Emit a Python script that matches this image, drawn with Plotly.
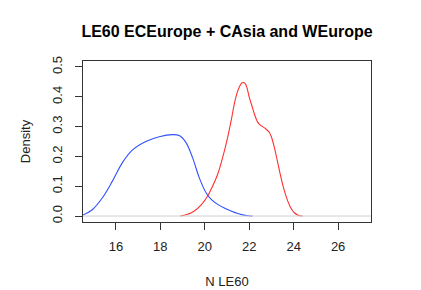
import plotly.graph_objects as go

# Data (density estimates)
blue_x = [14.2, 14.5, 14.95, 15.4, 15.85, 16.3, 16.75, 17.35, 17.95, 18.55, 18.85, 19.15,
          19.45, 19.75, 20.05, 20.3, 20.58, 20.9, 21.18, 21.45, 21.7, 21.95, 22.15]
blue_y = [0.0, 0.003, 0.022, 0.062, 0.118, 0.180, 0.222, 0.250, 0.266, 0.273, 0.270, 0.247,
          0.196, 0.129, 0.079, 0.055, 0.039, 0.026, 0.017, 0.009, 0.004, 0.001, 0.0]
red_x = [18.9, 19.2, 19.53, 19.85, 20.13, 20.35, 20.58, 20.8, 21.03, 21.2, 21.33, 21.45, 21.55,
         21.65, 21.73, 21.82, 21.9, 22.0, 22.12, 22.23, 22.38, 22.5, 22.6, 22.75, 22.9, 23.0,
         23.13, 23.28, 23.43, 23.58, 23.73, 23.88, 24.03, 24.2, 24.4]
red_y = [0.0, 0.005, 0.017, 0.038, 0.067, 0.100, 0.140, 0.195, 0.264, 0.325, 0.376, 0.412, 0.432,
         0.445, 0.448, 0.444, 0.430, 0.399, 0.370, 0.343, 0.315, 0.305, 0.300, 0.292, 0.281, 0.265,
         0.230, 0.180, 0.129, 0.085, 0.051, 0.026, 0.011, 0.003, 0.0]

x_ticks = [16, 18, 20, 22, 24, 26]
y_ticks = [0.0, 0.1, 0.2, 0.3, 0.4, 0.5]
y_tick_text = ["0.0", "0.1", "0.2", "0.3", "0.4", "0.5"]

title = "LE60 ECEurope + CAsia and WEurope"
x_label = "N LE60"
y_label = "Density"

fig = go.Figure()
fig.add_hline(y=0, line=dict(color="#d0d0d0", width=1))
fig.add_trace(go.Scatter(x=blue_x, y=blue_y, mode="lines", line=dict(color="#3050ff", width=1.1),
                         line_shape="spline", showlegend=False))
fig.add_trace(go.Scatter(x=red_x, y=red_y, mode="lines", line=dict(color="#ff3030", width=1.1),
                         line_shape="spline", showlegend=False))

# The page body has an 8px margin, so the figure is sized to fit the window.
W, H = 413, 282
font_family = "Liberation Sans, Arial, Helvetica, sans-serif"
fig.update_layout(
    width=W, height=H,
    margin=dict(l=75, r=50, t=53, b=68),
    paper_bgcolor="white", plot_bgcolor="white",
    font=dict(family=font_family, size=13, color="#222"),
    title=dict(text="<b>" + title + "</b>", x=219 / W, xanchor="center",
               y=1 - 23 / H, yanchor="middle", font=dict(size=16, color="black")),
)
fig.update_xaxes(range=[14.52, 27.48], tickvals=x_ticks, ticks="outside", ticklen=7,
                 tickcolor="#333", showline=True, linecolor="#333", linewidth=1, mirror=True,
                 showgrid=False, zeroline=False, tickfont=dict(size=13, color="#222"),
                 automargin=False, ticklabelstandoff=5,
                 title=dict(text=x_label, font=dict(size=13, color="#222"), standoff=24))
fig.update_yaxes(range=[-0.02, 0.52], tickvals=y_ticks, ticktext=y_tick_text, ticks="outside",
                 ticklen=7, tickcolor="#333", showline=True, linecolor="#333", linewidth=1,
                 mirror=True, showgrid=False, zeroline=False, tickangle=-90,
                 tickfont=dict(size=13, color="#222"), automargin=False, ticklabelstandoff=8,
                 title=dict(text=y_label, font=dict(size=13, color="#222"), standoff=16))

fig.write_html("out.html")
